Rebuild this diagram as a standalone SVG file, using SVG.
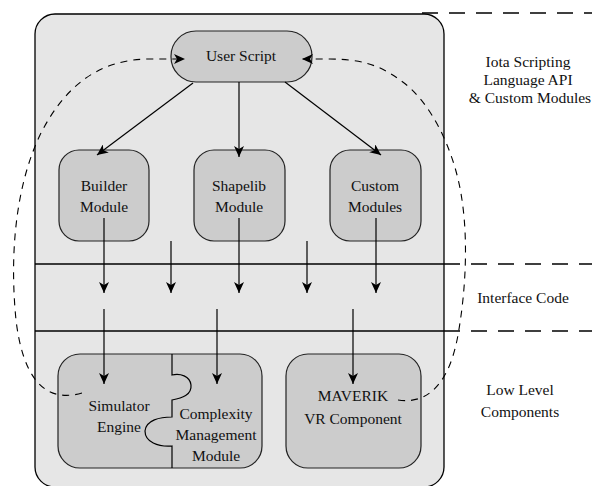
<svg xmlns="http://www.w3.org/2000/svg" width="592" height="486" viewBox="0 0 592 486">
  <style>
    .panel { fill: #e6e6e6; stroke: #000; stroke-width: 1.3; }
    .node { fill: #cccccc; stroke: #222; stroke-width: 1.2; }
    .lbl { font-family: "Liberation Serif", "Times New Roman", serif; font-size: 15.5px; fill: #111; text-anchor: middle; }
    .layer { stroke: #000; stroke-width: 1.6; fill: none; }
    .layerdash { stroke: #000; stroke-width: 1.6; fill: none; stroke-dasharray: 16 11; }
    .edge { stroke: #000; stroke-width: 1.2; fill: none; }
    .loop { stroke: #000; stroke-width: 1.1; fill: none; stroke-dasharray: 7 6; }
  </style>
  <defs>
    <marker id="arrow" markerUnits="userSpaceOnUse" markerWidth="12" markerHeight="10" viewBox="0 0 12 10" refX="11" refY="5" orient="auto">
      <path d="M0,0 L11,5 L0,10 L3,5 z" fill="#000"/>
    </marker>
  </defs>

  <!-- background panel -->
  <rect class="panel" x="35" y="14" width="409" height="473" rx="20"/>

  <!-- layer boundaries -->
  <g id="layers">
    <line class="layerdash" x1="422" y1="13" x2="592" y2="13"/>
    <line class="layer" x1="35" y1="264" x2="444" y2="264"/>
    <line class="layerdash" x1="444" y1="264" x2="592" y2="264"/>
    <line class="layer" x1="35" y1="331" x2="444" y2="331"/>
    <line class="layerdash" x1="444" y1="331" x2="592" y2="331"/>
  </g>

  <!-- layer captions -->
  <g id="captions">
    <text class="lbl" x="528" y="67">Iota Scripting</text>
    <text class="lbl" x="528" y="85">Language API</text>
    <text class="lbl" x="530" y="103">&amp; Custom Modules</text>
    <text class="lbl" x="523" y="303">Interface Code</text>
    <text class="lbl" x="520" y="395">Low Level</text>
    <text class="lbl" x="520" y="417">Components</text>
  </g>

  <g id="user-script">
    <rect class="node" x="171" y="31" width="141" height="51" rx="25"/>
    <text class="lbl" x="241" y="61">User Script</text>
  </g>

  <g id="builder-module">
    <rect class="node" x="59" y="150" width="90" height="91" rx="20"/>
    <text class="lbl" x="104" y="191">Builder</text>
    <text class="lbl" x="104" y="212">Module</text>
  </g>

  <g id="shapelib-module">
    <rect class="node" x="194" y="150" width="91" height="91" rx="20"/>
    <text class="lbl" x="239" y="191">Shapelib</text>
    <text class="lbl" x="239" y="212">Module</text>
  </g>

  <g id="custom-modules">
    <rect class="node" x="330" y="150" width="91" height="91" rx="20"/>
    <text class="lbl" x="375" y="191">Custom</text>
    <text class="lbl" x="375" y="212">Modules</text>
  </g>

  <g id="simulator-complexity">
    <rect class="node" x="58" y="354" width="204" height="114" rx="22"/>
    <!-- jigsaw seam between the two halves -->
    <path class="edge" d="M172,354 L172,375 C180,373 190,376 191,385 C192,395 182,398 172,400 L172,417 C160,417 146,420 145,431 C145,442 158,447 172,446 L172,468"/>
    <text class="lbl" x="119" y="411">Simulator</text>
    <text class="lbl" x="119" y="432">Engine</text>
    <text class="lbl" x="216" y="419">Complexity</text>
    <text class="lbl" x="216" y="440">Management</text>
    <text class="lbl" x="216" y="461">Module</text>
  </g>

  <g id="maverik">
    <rect class="node" x="286" y="354" width="135" height="114" rx="22"/>
    <text class="lbl" x="353" y="401">MAVERIK</text>
    <text class="lbl" x="353" y="424">VR Component</text>
  </g>

  <g id="connectors">
    <line class="edge" x1="193" y1="83" x2="97" y2="155" marker-end="url(#arrow)"/>
    <line class="edge" x1="239" y1="82" x2="239" y2="157" marker-end="url(#arrow)"/>
    <line class="edge" x1="285" y1="82" x2="381" y2="155" marker-end="url(#arrow)"/>

    <line class="edge" x1="104" y1="218" x2="104" y2="293" marker-end="url(#arrow)"/>
    <line class="edge" x1="171" y1="241" x2="171" y2="293" marker-end="url(#arrow)"/>
    <line class="edge" x1="239" y1="218" x2="239" y2="293" marker-end="url(#arrow)"/>
    <line class="edge" x1="307" y1="241" x2="307" y2="293" marker-end="url(#arrow)"/>
    <line class="edge" x1="376" y1="218" x2="376" y2="293" marker-end="url(#arrow)"/>

    <line class="edge" x1="104" y1="309" x2="104" y2="384" marker-end="url(#arrow)"/>
    <line class="edge" x1="217" y1="309" x2="217" y2="384" marker-end="url(#arrow)"/>
    <line class="edge" x1="353" y1="309" x2="353" y2="384" marker-end="url(#arrow)"/>

    <!-- feedback loops back to the user script -->
    <path class="loop" d="M82,393 C40,405 22,370 16,320 C10,260 14,190 40,135 C65,85 100,59 150,59 L185,59" marker-end="url(#arrow)"/>
    <path class="loop" d="M398,400 C430,405 450,380 458,335 C466,290 468,240 462,200 C455,150 430,100 400,80 C380,65 360,59 330,59 L302,59" marker-end="url(#arrow)"/>
  </g>
</svg>
